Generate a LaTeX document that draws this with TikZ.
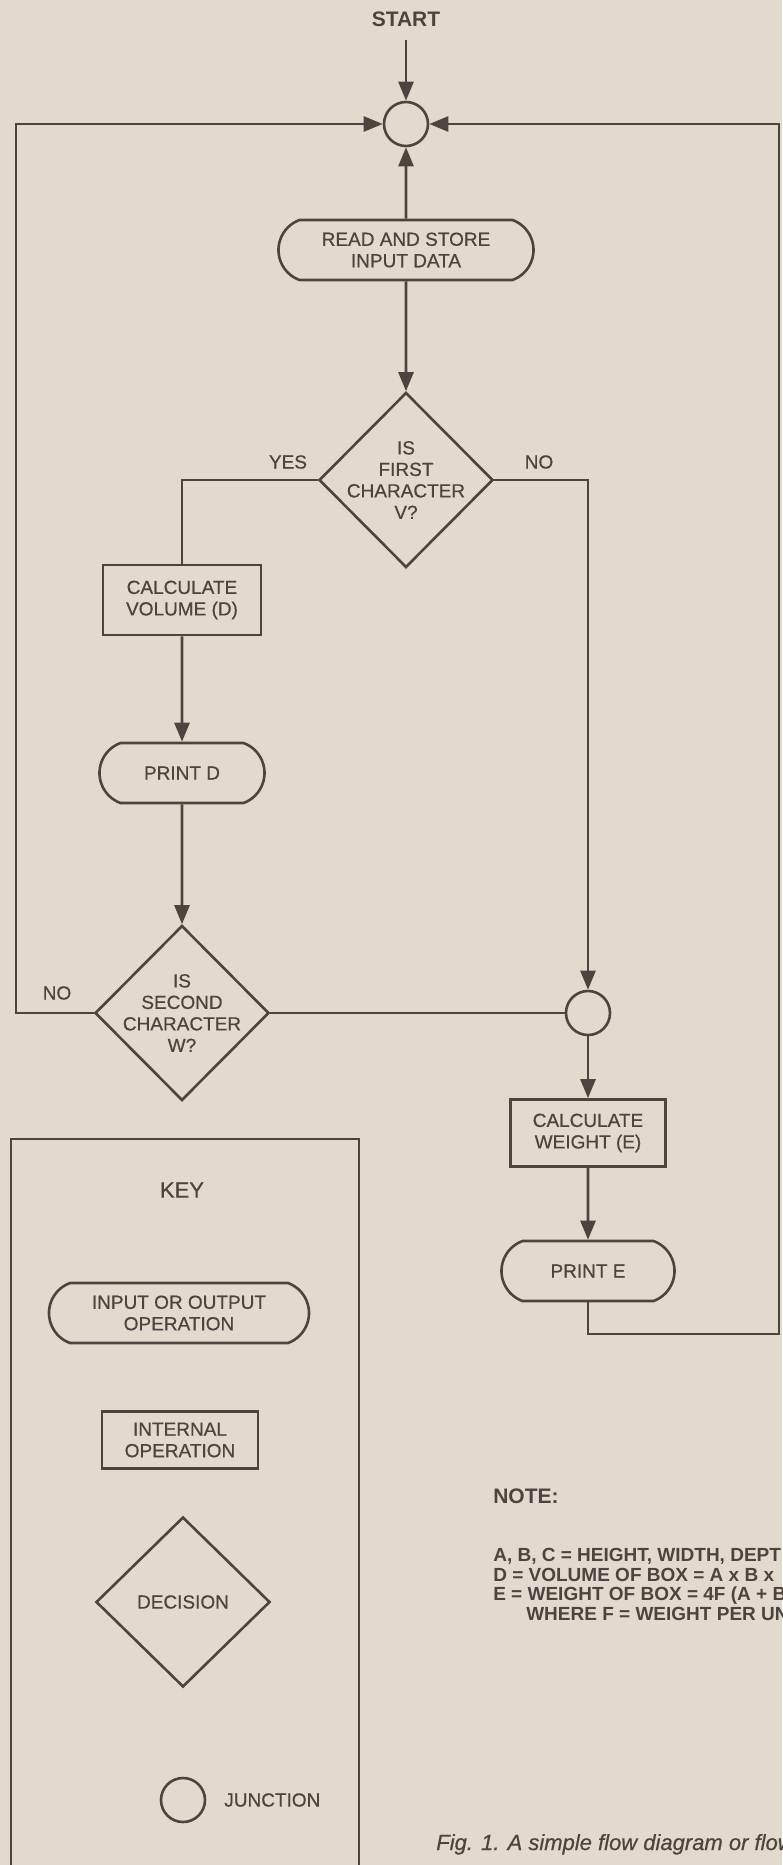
\documentclass[tikz,border=0pt]{standalone}
\usepackage{fontspec}
\setmainfont{Liberation Sans}[UprightFeatures={FakeBold=0.6}, ItalicFeatures={FakeBold=0.6}]
\usepackage{tikz}
\usetikzlibrary{shapes.geometric, shapes.misc, arrows.meta}
\definecolor{paper}{RGB}{227,218,206}
\definecolor{ink}{RGB}{78,68,63}

\begin{document}
\begin{tikzpicture}[x=1pt, y=-1pt, line width=2.6pt, color=ink,
    every node/.style={font=\fontsize{19}{21.5}\selectfont, align=center},
    flow/.style={-{Triangle[length=19pt,width=15pt]}},
    io/.style={draw, rounded rectangle, rounded rectangle arc length=140, minimum height=60pt, inner sep=0pt},
    task/.style={draw, rectangle, inner sep=0pt},
    decision/.style={draw, diamond, minimum width=174pt, minimum height=175pt, inner sep=0pt},
    junction/.style={draw, circle, minimum size=44pt, inner sep=0pt}]
    \fill [paper] (0,0) rectangle (782,1865);
    \useasboundingbox (0,0) rectangle (782,1865);

    % main flow
    \node [font=\fontsize{21}{24}\selectfont\bfseries] (start) at (406,19) {START};
    \node [junction] (j1) at (406,124) {};
    \node [io, minimum width=255pt] (read) at (406,250) {READ AND STORE\\INPUT DATA};
    \node [decision, label={[align=center]center:IS\\FIRST\\CHARACTER\\V?}] (d1) at (406,480) {};
    \node (yes) at (288,462) {YES};
    \node (nofirst) at (539,462) {NO};
    \node [task, minimum width=158pt, minimum height=70pt] (volume) at (182,600) {CALCULATE\\VOLUME (D)};
    \node [io, minimum width=165pt] (printd) at (182,773) {PRINT D};
    \node [decision, label={[align=center]center:IS\\SECOND\\CHARACTER\\W?}] (d2) at (182,1013) {};
    \node (nosecond) at (57,993) {NO};
    \node [junction] (j2) at (588,1013) {};
    \node [task, minimum width=155pt, minimum height=67pt] (weight) at (588,1133) {CALCULATE\\WEIGHT (E)};
    \node [io, minimum width=173pt] (printe) at (588,1271) {PRINT E};
    \coordinate (leftturn) at (16,124);
    \coordinate (rightturn) at (779,1334);

    \draw [flow, shorten <=9pt] (start) -- (j1);
    \draw [flow] (read) -- (j1);
    \draw [flow] (read) -- (d1);
    \draw (d1.west) -| (volume.north);
    \draw [flow] (volume) -- (printd);
    \draw [flow] (printd) -- (d2);
    \draw [flow] (d1.east) -| (j2.north);
    \draw (d2.east) -- (j2.west);
    \draw [flow] (j2) -- (weight);
    \draw [flow] (weight) -- (printe);
    \draw [flow] (printe.south) |- (rightturn) |- (j1.east);
    \draw [flow] (d2.west) -| (leftturn) -- (j1.west);

    % key
    \draw (11,1865) -- (11,1139) -- (359,1139) -- (359,1865);
    \node [font=\fontsize{22}{24}\selectfont] (key) at (182,1190) {KEY};
    \node [io, minimum width=260pt] (keyio) at (179,1313) {INPUT OR OUTPUT\\OPERATION};
    \node [task, minimum width=156pt, minimum height=57pt] (keytask) at (180,1440) {INTERNAL\\OPERATION};
    \node [decision, minimum height=170pt, label={center:DECISION}] (keydecision) at (183,1602) {};
    \node [junction] (keyjunction) at (183,1800) {};
    \node [anchor=west, inner sep=0pt] (keyjunctiontext) at (223,1800) {JUNCTION};

    % note and caption
    \node [anchor=west, inner sep=0pt, font=\fontsize{21}{24}\selectfont\bfseries] (note) at (492,1496) {NOTE:};
    \node [anchor=north west, inner sep=0pt, align=left, font=\fontsize{19}{19.7}\selectfont\bfseries] (notes) at (492,1547)
        {A, B, C = HEIGHT, WIDTH, DEPT\\
         D = VOLUME OF BOX = A x B x\\
         E = WEIGHT OF BOX = 4F (A + B\\
         \hspace*{33pt}WHERE F = WEIGHT PER UN};
    \node [anchor=base west, inner sep=0pt, font=\fontsize{22}{24}\selectfont\itshape] (caption) at (435,1850)
        {Fig. 1. A simple flow diagram or flow};
\end{tikzpicture}
\end{document}
